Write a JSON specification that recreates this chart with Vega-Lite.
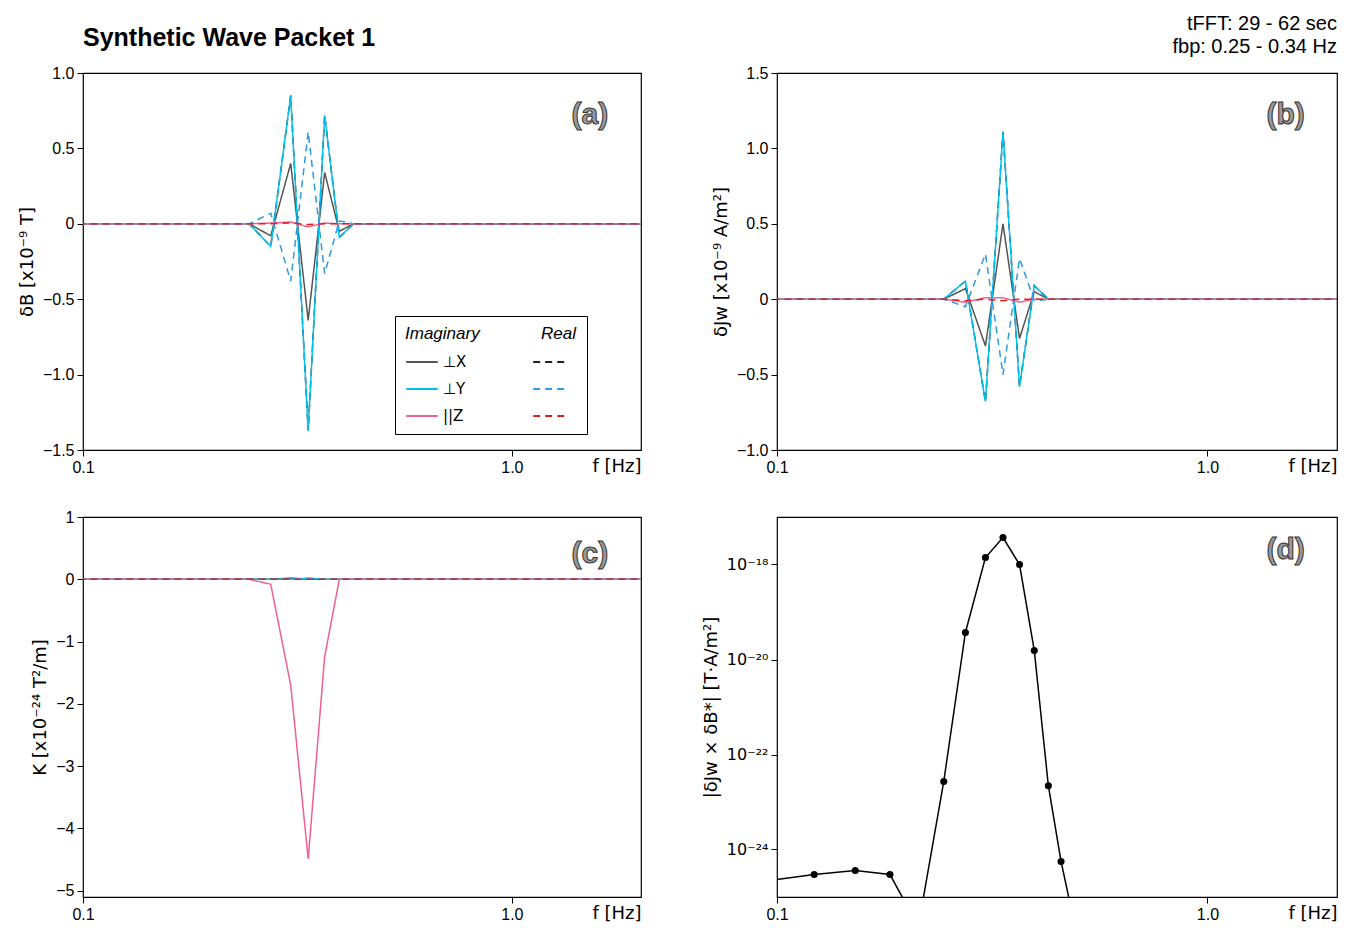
{
  "$schema": "https://vega.github.io/schema/vega-lite/v6.json",
  "background": "white",
  "padding": {"left": 17, "top": 13, "right": 10, "bottom": 5},
  "config": {
    "font": "Liberation Sans",
    "view": {"stroke": "black", "strokeWidth": 1.2},
    "axis": {"grid": false, "domain": false, "tickColor": "black", "tickSize": 6, "labelPadding": 3, "labelFontSize": 16, "labelColor": "black", "titleFontSize": 18, "titleFontWeight": "normal", "titleColor": "black", "titlePadding": 6, "titleFont": "DejaVu Sans"},
    "axisX": {"labelFlush": false},
    "title": {"fontSize": 24, "font": "Liberation Sans"}
  },
  "datasets": {
    "spec": [
      {"p": "a", "f": 0.0915, "iX": 0, "iY": 0, "iZ": 0, "rX": 0, "rY": 0, "rZ": 0},
      {"p": "a", "f": 0.213, "iX": 0, "iY": 0, "iZ": 0, "rX": 0, "rY": 0, "rZ": 0},
      {"p": "a", "f": 0.244, "iX": 0, "iY": 0, "iZ": 0, "rX": 0, "rY": 0, "rZ": 0},
      {"p": "a", "f": 0.274, "iX": -0.08, "iY": -0.15, "iZ": 0.005, "rX": -0.15, "rY": 0.07, "rZ": 0},
      {"p": "a", "f": 0.305, "iX": 0.40, "iY": 0.85, "iZ": 0.012, "rX": 0.85, "rY": -0.38, "rZ": 0.005},
      {"p": "a", "f": 0.335, "iX": -0.64, "iY": -1.37, "iZ": -0.02, "rX": -1.37, "rY": 0.61, "rZ": -0.005},
      {"p": "a", "f": 0.366, "iX": 0.34, "iY": 0.72, "iZ": 0.005, "rX": 0.72, "rY": -0.33, "rZ": 0},
      {"p": "a", "f": 0.396, "iX": -0.05, "iY": -0.09, "iZ": 0, "rX": -0.09, "rY": 0.02, "rZ": 0},
      {"p": "a", "f": 0.427, "iX": 0, "iY": 0, "iZ": 0, "rX": 0, "rY": 0, "rZ": 0},
      {"p": "a", "f": 2.1, "iX": 0, "iY": 0, "iZ": 0, "rX": 0, "rY": 0, "rZ": 0},
      {"p": "b", "f": 0.0915, "iX": 0, "iY": 0, "iZ": 0, "rX": 0, "rY": 0, "rZ": 0},
      {"p": "b", "f": 0.244, "iX": 0, "iY": 0, "iZ": 0, "rX": 0, "rY": 0, "rZ": 0},
      {"p": "b", "f": 0.274, "iX": 0.07, "iY": 0.12, "iZ": -0.02, "rX": 0.12, "rY": -0.05, "rZ": -0.01},
      {"p": "b", "f": 0.305, "iX": -0.31, "iY": -0.68, "iZ": 0.01, "rX": -0.68, "rY": 0.30, "rZ": 0},
      {"p": "b", "f": 0.335, "iX": 0.50, "iY": 1.11, "iZ": 0.01, "rX": 1.11, "rY": -0.50, "rZ": -0.01},
      {"p": "b", "f": 0.366, "iX": -0.26, "iY": -0.58, "iZ": -0.02, "rX": -0.58, "rY": 0.27, "rZ": 0},
      {"p": "b", "f": 0.396, "iX": 0.05, "iY": 0.09, "iZ": 0, "rX": 0.09, "rY": -0.01, "rZ": 0},
      {"p": "b", "f": 0.427, "iX": 0, "iY": 0, "iZ": 0, "rX": 0, "rY": 0, "rZ": 0},
      {"p": "b", "f": 2.1, "iX": 0, "iY": 0, "iZ": 0, "rX": 0, "rY": 0, "rZ": 0},
      {"p": "c", "f": 0.0915, "iX": 0, "iY": 0, "iZ": 0, "rX": 0, "rY": 0, "rZ": 0},
      {"p": "c", "f": 0.244, "iX": 0, "iY": 0, "iZ": 0, "rX": 0, "rY": 0, "rZ": 0},
      {"p": "c", "f": 0.274, "iX": 0, "iY": 0, "iZ": -0.08, "rX": 0, "rY": 0, "rZ": 0},
      {"p": "c", "f": 0.305, "iX": 0.02, "iY": 0, "iZ": -1.7, "rX": 0, "rY": 0.01, "rZ": 0},
      {"p": "c", "f": 0.335, "iX": 0, "iY": 0.02, "iZ": -4.49, "rX": 0, "rY": 0, "rZ": 0},
      {"p": "c", "f": 0.366, "iX": 0, "iY": 0, "iZ": -1.24, "rX": 0, "rY": 0, "rZ": 0},
      {"p": "c", "f": 0.396, "iX": 0, "iY": 0, "iZ": 0, "rX": 0, "rY": 0, "rZ": 0},
      {"p": "c", "f": 2.1, "iX": 0, "iY": 0, "iZ": 0, "rX": 0, "rY": 0, "rZ": 0}
    ],
    "cross": [
      {"f": 0.0915, "v": 2.1e-25}, {"f": 0.122, "v": 2.97e-25}, {"f": 0.152, "v": 3.6e-25},
      {"f": 0.183, "v": 2.97e-25}, {"f": 0.213, "v": 2.4e-26}, {"f": 0.244, "v": 2.7e-23},
      {"f": 0.274, "v": 3.7e-20}, {"f": 0.305, "v": 1.4e-18}, {"f": 0.335, "v": 3.7e-18},
      {"f": 0.366, "v": 1.0e-18}, {"f": 0.396, "v": 1.55e-20}, {"f": 0.427, "v": 2.2e-23},
      {"f": 0.457, "v": 5.6e-25}, {"f": 0.488, "v": 3.5e-26}
    ],
    "labs": [
      {"p": "a", "t": "(a)", "f": 1.52, "v": 0.72},
      {"p": "b", "t": "(b)", "f": 1.52, "v": 1.22},
      {"p": "c", "t": "(c)", "f": 1.52, "v": 0.4},
      {"p": "d", "t": "(d)", "f": 1.52, "v": 2e-18}
    ]
  },
  "columns": 2,
  "spacing": {"column": 59, "row": 32},
  "concat": [
    {
      "width": 558, "height": 377,
      "title": {"text": "Synthetic Wave Packet 1", "anchor": "start", "frame": "group", "fontWeight": "bold", "fontSize": 25, "offset": 14},
      "layer": [
        {
          "data": {"name": "spec"},
          "transform": [{"filter": "datum.p == 'a'"}, {"fold": ["iX", "rX", "iY", "rY", "iZ", "rZ"], "as": ["s", "v"]}],
          "mark": {"type": "line", "clip": true, "strokeWidth": 1.5},
          "encoding": {
            "x": {"field": "f", "type": "quantitative", "scale": {"type": "log", "domain": [0.1, 2.0], "nice": false}, "axis": {"values": [0.1, 1], "format": ".1f", "title": "f  [Hz]", "titleAnchor": "end", "titleAlign": "right", "titleBaseline": "top", "titleY": 7, "titleX": 558}},
            "y": {"field": "v", "type": "quantitative", "scale": {"domain": [-1.5, 1.0], "nice": false}, "axis": {"values": [-1.5, -1, -0.5, 0, 0.5, 1], "labelExpr": "datum.value == 0 ? '0' : format(datum.value, '.1f')", "title": "δB  [x10⁻⁹ T]"}},
            "color": {"field": "s", "type": "nominal", "scale": {"domain": ["iX", "iY", "iZ", "rX", "rY", "rZ"], "range": ["#555555", "#00c0f0", "#f06090", "#222222", "#3399dd", "#dd2222"]},
              "legend": {"orient": "none", "legendX": 312, "legendY": 243, "columns": 2, "title": "Imaginary\u00a0\u00a0\u00a0\u00a0\u00a0\u00a0\u00a0\u00a0\u00a0\u00a0\u00a0\u00a0\u00a0Real", "titleFontStyle": "italic", "titleFontWeight": "normal", "titleFontSize": 17, "titlePadding": 2, "labelExpr": "datum.value == 'iX' ? '⊥X' : datum.value == 'iY' ? '⊥Y' : datum.value == 'iZ' ? '||Z' : ''", "labelFontSize": 15, "labelFont": "DejaVu Sans", "symbolType": "stroke", "symbolSize": 1000, "symbolStrokeWidth": 1.8, "fillColor": "white", "strokeColor": "black", "padding": 10, "columnPadding": 62, "rowPadding": 2, "labelOffset": 4}},
            "strokeDash": {"field": "s", "type": "nominal", "scale": {"domain": ["iX", "iY", "iZ", "rX", "rY", "rZ"], "range": [[1, 0], [1, 0], [1, 0], [7, 5], [7, 5], [7, 5]]}, "legend": null}
          }
        },
        {
          "data": {"name": "labs"}, "transform": [{"filter": "datum.p == 'a'"}],
          "mark": {"type": "text", "fontSize": 30, "fontWeight": "bold", "fill": "#999999", "stroke": "#333333", "strokeWidth": 1},
          "encoding": {"x": {"field": "f", "type": "quantitative"}, "y": {"field": "v", "type": "quantitative"}, "text": {"field": "t"}}
        }
      ]
    },
    {
      "width": 560, "height": 377,
      "title": {"text": ["tFFT: 29 - 62 sec", "fbp: 0.25 - 0.34 Hz"], "anchor": "end", "frame": "group", "fontWeight": "normal", "fontSize": 20, "offset": 8, "lineHeight": 23},
      "layer": [
        {
          "data": {"name": "spec"},
          "transform": [{"filter": "datum.p == 'b'"}, {"fold": ["iX", "rX", "iY", "rY", "iZ", "rZ"], "as": ["s", "v"]}],
          "mark": {"type": "line", "clip": true, "strokeWidth": 1.5},
          "encoding": {
            "x": {"field": "f", "type": "quantitative", "scale": {"type": "log", "domain": [0.1, 2.0], "nice": false}, "axis": {"values": [0.1, 1], "format": ".1f", "title": "f  [Hz]", "titleAnchor": "end", "titleAlign": "right", "titleBaseline": "top", "titleY": 7, "titleX": 560}},
            "y": {"field": "v", "type": "quantitative", "scale": {"domain": [-1.0, 1.5], "nice": false}, "axis": {"values": [-1, -0.5, 0, 0.5, 1, 1.5], "labelExpr": "datum.value == 0 ? '0' : format(datum.value, '.1f')", "title": "δJw  [x10⁻⁹ A/m²]"}},
            "color": {"field": "s", "type": "nominal", "scale": {"domain": ["iX", "iY", "iZ", "rX", "rY", "rZ"], "range": ["#555555", "#00c0f0", "#f06090", "#222222", "#3399dd", "#dd2222"]}, "legend": null},
            "strokeDash": {"field": "s", "type": "nominal", "scale": {"domain": ["iX", "iY", "iZ", "rX", "rY", "rZ"], "range": [[1, 0], [1, 0], [1, 0], [7, 5], [7, 5], [7, 5]]}, "legend": null}
          }
        },
        {
          "data": {"name": "labs"}, "transform": [{"filter": "datum.p == 'b'"}],
          "mark": {"type": "text", "fontSize": 30, "fontWeight": "bold", "fill": "#999999", "stroke": "#333333", "strokeWidth": 1},
          "encoding": {"x": {"field": "f", "type": "quantitative"}, "y": {"field": "v", "type": "quantitative"}, "text": {"field": "t"}}
        }
      ]
    },
    {
      "width": 558, "height": 380,
      "layer": [
        {
          "data": {"name": "spec"},
          "transform": [{"filter": "datum.p == 'c'"}, {"fold": ["iX", "rX", "iY", "rY", "iZ", "rZ"], "as": ["s", "v"]}],
          "mark": {"type": "line", "clip": true, "strokeWidth": 1.5},
          "encoding": {
            "x": {"field": "f", "type": "quantitative", "scale": {"type": "log", "domain": [0.1, 2.0], "nice": false}, "axis": {"values": [0.1, 1], "format": ".1f", "title": "f  [Hz]", "titleAnchor": "end", "titleAlign": "right", "titleBaseline": "top", "titleY": 7, "titleX": 558}},
            "y": {"field": "v", "type": "quantitative", "scale": {"domain": [-5.1, 1.0], "nice": false}, "axis": {"values": [-5, -4, -3, -2, -1, 0, 1], "format": "d", "title": "K  [x10⁻²⁴ T²/m]"}},
            "color": {"field": "s", "type": "nominal", "scale": {"domain": ["iX", "iY", "iZ", "rX", "rY", "rZ"], "range": ["#555555", "#00c0f0", "#f06090", "#222222", "#3399dd", "#dd2222"]}, "legend": null},
            "strokeDash": {"field": "s", "type": "nominal", "scale": {"domain": ["iX", "iY", "iZ", "rX", "rY", "rZ"], "range": [[1, 0], [1, 0], [1, 0], [7, 5], [7, 5], [7, 5]]}, "legend": null}
          }
        },
        {
          "data": {"name": "labs"}, "transform": [{"filter": "datum.p == 'c'"}],
          "mark": {"type": "text", "fontSize": 30, "fontWeight": "bold", "fill": "#999999", "stroke": "#333333", "strokeWidth": 1},
          "encoding": {"x": {"field": "f", "type": "quantitative"}, "y": {"field": "v", "type": "quantitative"}, "text": {"field": "t"}}
        }
      ]
    },
    {
      "width": 560, "height": 380,
      "layer": [
        {
          "data": {"name": "cross"},
          "mark": {"type": "line", "clip": true, "color": "black", "strokeWidth": 1.5, "point": {"filled": true, "size": 50, "color": "black"}},
          "encoding": {
            "x": {"field": "f", "type": "quantitative", "scale": {"type": "log", "domain": [0.1, 2.0], "nice": false}, "axis": {"values": [0.1, 1], "format": ".1f", "title": "f  [Hz]", "titleAnchor": "end", "titleAlign": "right", "titleBaseline": "top", "titleY": 7, "titleX": 560}},
            "y": {"field": "v", "type": "quantitative", "scale": {"type": "log", "domain": [1e-25, 1e-17], "nice": false}, "axis": {"values": [1e-24, 1e-22, 1e-20, 1e-18], "labelFont": "DejaVu Sans", "labelExpr": "datum.value < 1e-23 ? '10⁻²⁴' : datum.value < 1e-21 ? '10⁻²²' : datum.value < 1e-19 ? '10⁻²⁰' : '10⁻¹⁸'", "title": "|δJw × δB*|  [T·A/m²]"}}
          }
        },
        {
          "data": {"name": "labs"}, "transform": [{"filter": "datum.p == 'd'"}],
          "mark": {"type": "text", "fontSize": 30, "fontWeight": "bold", "fill": "#999999", "stroke": "#333333", "strokeWidth": 1},
          "encoding": {"x": {"field": "f", "type": "quantitative"}, "y": {"field": "v", "type": "quantitative"}, "text": {"field": "t"}}
        }
      ]
    }
  ]
}
